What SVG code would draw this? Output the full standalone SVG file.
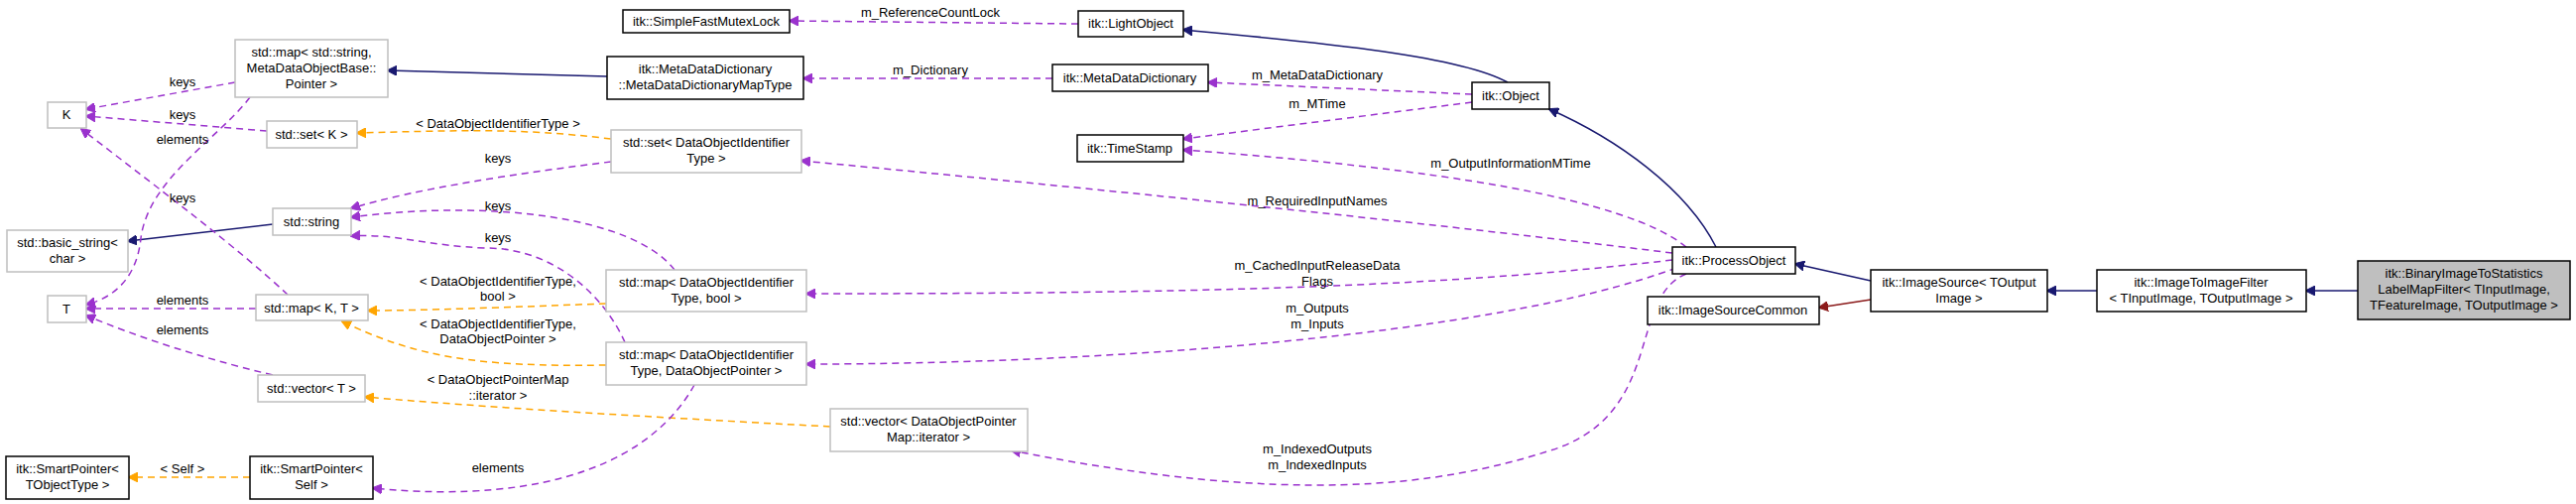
<svg xmlns="http://www.w3.org/2000/svg" width="2597" height="508" viewBox="0 0 2597 508">
<style>
text{font-family:"Liberation Sans",Arial,sans-serif;font-size:13px;fill:#000;text-anchor:middle}
.n rect{fill:#fff;stroke:#000;stroke-width:1.5}
.g rect{fill:#fff;stroke:#bfbfbf;stroke-width:1.5}
.e path{fill:none;stroke-width:1.5}
.p{stroke:#9a32cd;stroke-dasharray:7,5;marker-end:url(#ap)}
.o{stroke:#ffa500;stroke-dasharray:7,5;marker-end:url(#ao)}
.b{stroke:#191970;marker-end:url(#ab)}
.r{stroke:#8b1a1a;marker-end:url(#ar)}
</style>
<defs>
<marker id="ap" markerWidth="10" markerHeight="10" refX="9" refY="5" orient="auto" markerUnits="userSpaceOnUse"><path d="M0,0L10,5L0,10z" fill="#9a32cd" stroke="#9a32cd"/></marker>
<marker id="ao" markerWidth="10" markerHeight="10" refX="9" refY="5" orient="auto" markerUnits="userSpaceOnUse"><path d="M0,0L10,5L0,10z" fill="#ffa500" stroke="#ffa500"/></marker>
<marker id="ab" markerWidth="10" markerHeight="10" refX="9" refY="5" orient="auto" markerUnits="userSpaceOnUse"><path d="M0,0L10,5L0,10z" fill="#191970" stroke="#191970"/></marker>
<marker id="ar" markerWidth="10" markerHeight="10" refX="9" refY="5" orient="auto" markerUnits="userSpaceOnUse"><path d="M0,0L10,5L0,10z" fill="#8b1a1a" stroke="#8b1a1a"/></marker>
</defs>
<rect width="2597" height="508" fill="#fff"/>
<g id="edges" class="e">
<path class="p" d="M1087,24L796,21"/><text x="938" y="17">m_ReferenceCountLock</text>
<path class="b" d="M1520,83C1470,55 1320,42 1193,30"/>
<path class="p" d="M1061,79L810,79"/><text x="938" y="75">m_Dictionary</text>
<path class="p" d="M1484,95L1218,83"/><text x="1328" y="80">m_MetaDataDictionary</text>
<path class="p" d="M1484,103L1193,140"/><text x="1328" y="109">m_MTime</text>
<path class="p" d="M1700,249C1640,200 1450,170 1193,151"/><text x="1523" y="169">m_OutputInformationMTime</text>
<path class="b" d="M1730,249C1700,190 1630,140 1562,110"/>
<path class="p" d="M1686,255C1400,220 1100,190 808,162"/><text x="1328" y="207">m_RequiredInputNames</text>
<path class="p" d="M1686,262C1450,290 1200,296 813,296"/><text x="1328" y="272">m_CachedInputReleaseData</text><text x="1328" y="288">Flags</text>
<path class="p" d="M1690,270C1500,340 1100,367 813,367"/><text x="1328" y="315">m_Outputs</text><text x="1328" y="331">m_Inputs</text>
<path class="p" d="M1700,276C1640,300 1680,420 1560,455C1450,490 1300,510 1020,454"/><text x="1328" y="457">m_IndexedOutputs</text><text x="1328" y="473">m_IndexedInputs</text>
<path class="b" d="M1886,283L1810,266"/>
<path class="r" d="M1886,302L1834,310"/>
<path class="b" d="M2114,293L2064,293"/>
<path class="b" d="M2377,293L2325,293"/>
<path class="b" d="M612,77L391,71"/>
<path class="b" d="M275,226L129,243"/>
<path class="p" d="M237,83L87,110"/><text x="184" y="87">keys</text>
<path class="p" d="M269,132L87,117"/><text x="184" y="120">keys</text>
<path class="p" d="M252,98C220,140 150,180 142,240C138,280 115,300 87,307"/><text x="184" y="145">elements</text>
<path class="o" d="M616,140C520,128 450,132 360,134"/><text x="502" y="129">&lt; DataObjectIdentifierType &gt;</text>
<path class="p" d="M616,163C520,175 420,190 354,210"/><text x="502" y="164">keys</text>
<path class="p" d="M680,272C640,220 500,200 354,219"/><text x="502" y="212">keys</text>
<path class="p" d="M630,345C610,300 560,250 490,250C430,248 400,235 354,238"/><text x="502" y="244">keys</text>
<path class="p" d="M290,297C240,250 160,190 82,130"/><text x="184" y="204">keys</text>
<path class="p" d="M258,311L87,311"/><text x="184" y="307">elements</text>
<path class="p" d="M275,378C200,360 140,340 87,318"/><text x="184" y="337">elements</text>
<path class="o" d="M611,306C500,310 430,313 371,313"/><text x="502" y="288">&lt; DataObjectIdentifierType,</text><text x="502" y="303">bool &gt;</text>
<path class="o" d="M611,368C480,370 420,360 345,324"/><text x="502" y="331">&lt; DataObjectIdentifierType,</text><text x="502" y="346">DataObjectPointer &gt;</text>
<path class="o" d="M837,430C650,420 480,410 368,400"/><text x="502" y="387">&lt; DataObjectPointerMap</text><text x="502" y="403">::iterator &gt;</text>
<path class="p" d="M700,388C660,460 560,510 376,492"/><text x="502" y="476">elements</text>
<path class="o" d="M252,481L130,481"/><text x="184" y="477">&lt; Self &gt;</text>
</g>
<g id="n1" class="n"><rect x="628" y="10" width="168" height="23"/><text x="712" y="26">itk::SimpleFastMutexLock</text></g>
<g id="n2" class="g"><rect x="237" y="40" width="154" height="58"/><text x="314" y="57">std::map&lt; std::string,</text><text x="314" y="73">MetaDataObjectBase::</text><text x="314" y="89">Pointer &gt;</text></g>
<g id="n3" class="n"><rect x="612" y="57" width="198" height="43"/><text x="711" y="74">itk::MetaDataDictionary</text><text x="711" y="90">::MetaDataDictionaryMapType</text></g>
<g id="n4" class="g"><rect x="48" y="103" width="39" height="26"/><text x="67" y="120">K</text></g>
<g id="n5" class="g"><rect x="269" y="122" width="91" height="27"/><text x="314" y="140">std::set&lt; K &gt;</text></g>
<g id="n6" class="g"><rect x="616" y="131" width="192" height="43"/><text x="712" y="148">std::set&lt; DataObjectIdentifier</text><text x="712" y="164">Type &gt;</text></g>
<g id="n7" class="g"><rect x="275" y="210" width="79" height="27"/><text x="314" y="228">std::string</text></g>
<g id="n8" class="g"><rect x="7" y="232" width="122" height="42"/><text x="68" y="249">std::basic_string&lt;</text><text x="68" y="265">char &gt;</text></g>
<g id="n9" class="g"><rect x="48" y="298" width="39" height="27"/><text x="67" y="316">T</text></g>
<g id="n10" class="g"><rect x="258" y="297" width="113" height="26"/><text x="314" y="315">std::map&lt; K, T &gt;</text></g>
<g id="n11" class="g"><rect x="611" y="272" width="202" height="42"/><text x="712" y="289">std::map&lt; DataObjectIdentifier</text><text x="712" y="305">Type, bool &gt;</text></g>
<g id="n12" class="g"><rect x="611" y="345" width="202" height="43"/><text x="712" y="362">std::map&lt; DataObjectIdentifier</text><text x="712" y="378">Type, DataObjectPointer &gt;</text></g>
<g id="n13" class="g"><rect x="260" y="378" width="108" height="27"/><text x="314" y="396">std::vector&lt; T &gt;</text></g>
<g id="n14" class="n"><rect x="6" y="460" width="124" height="43"/><text x="68" y="477">itk::SmartPointer&lt;</text><text x="68" y="493">TObjectType &gt;</text></g>
<g id="n15" class="n"><rect x="252" y="460" width="124" height="43"/><text x="314" y="477">itk::SmartPointer&lt;</text><text x="314" y="493">Self &gt;</text></g>
<g id="n16" class="g"><rect x="837" y="412" width="199" height="43"/><text x="936" y="429">std::vector&lt; DataObjectPointer</text><text x="936" y="445">Map::iterator &gt;</text></g>
<g id="n17" class="n"><rect x="1087" y="11" width="106" height="26"/><text x="1140" y="28">itk::LightObject</text></g>
<g id="n18" class="n"><rect x="1061" y="65" width="157" height="27"/><text x="1139" y="83">itk::MetaDataDictionary</text></g>
<g id="n19" class="n"><rect x="1484" y="83" width="78" height="27"/><text x="1523" y="101">itk::Object</text></g>
<g id="n20" class="n"><rect x="1086" y="136" width="107" height="27"/><text x="1139" y="154">itk::TimeStamp</text></g>
<g id="n21" class="n"><rect x="1686" y="249" width="124" height="27"/><text x="1748" y="267">itk::ProcessObject</text></g>
<g id="n22" class="n"><rect x="1661" y="299" width="173" height="28"/><text x="1747" y="317">itk::ImageSourceCommon</text></g>
<g id="n23" class="n"><rect x="1886" y="272" width="178" height="42"/><text x="1975" y="289">itk::ImageSource&lt; TOutput</text><text x="1975" y="305">Image &gt;</text></g>
<g id="n24" class="n"><rect x="2114" y="272" width="211" height="42"/><text x="2219" y="289">itk::ImageToImageFilter</text><text x="2219" y="305">&lt; TInputImage, TOutputImage &gt;</text></g>
<g id="n25" class="n"><rect x="2377" y="263" width="214" height="59" style="fill:#bfbfbf"/><text x="2484" y="280">itk::BinaryImageToStatistics</text><text x="2484" y="296">LabelMapFilter&lt; TInputImage,</text><text x="2484" y="312">TFeatureImage, TOutputImage &gt;</text></g>
</svg>
